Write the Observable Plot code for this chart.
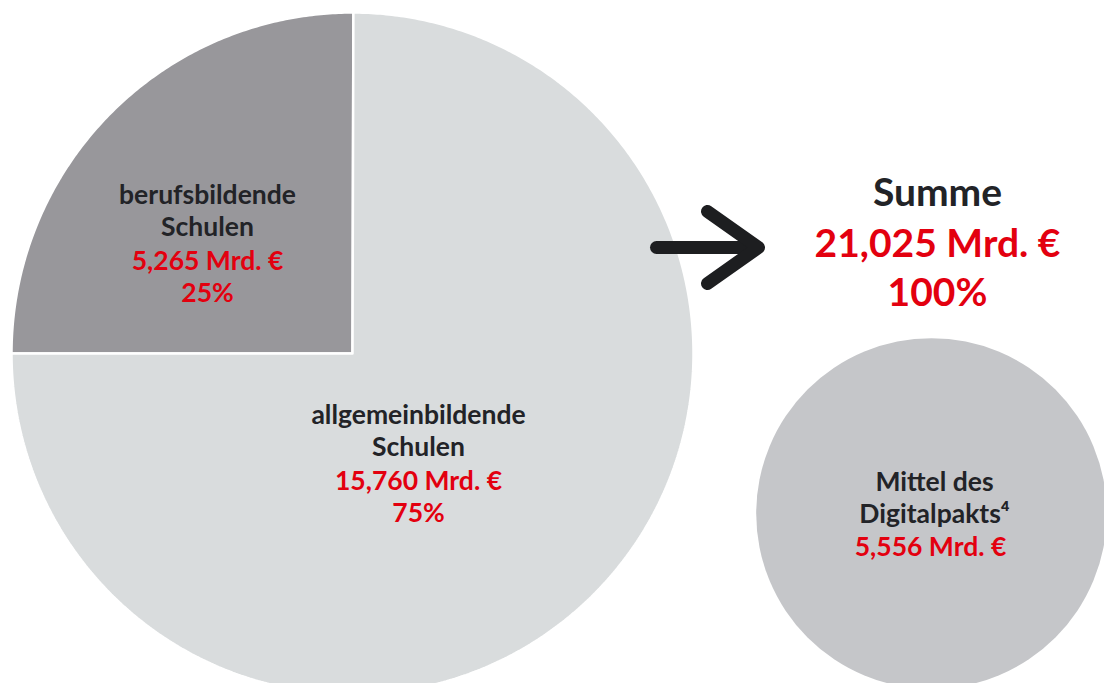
<!DOCTYPE html>
<html>
<head>
<meta charset="utf-8">
<script src="https://cdn.jsdelivr.net/npm/d3@7"></script>
<script src="https://cdn.jsdelivr.net/npm/@observablehq/plot@0.6"></script>
<style>
  html, body { margin: 0; padding: 0; background: #fff; overflow: hidden; }
  #chart svg { display: block; }
</style>
</head>
<body>
<div id="chart"></div>
<script>
// ---- data ----
const segmentNames = ["berufsbildende Schulen", "allgemeinbildende Schulen"];
const segmentAmounts = [5.265, 15.760];   // Mrd. €
const segmentShares = [25, 75];           // %
const totalLabel = "Summe";
const totalAmount = 21.025;               // Mrd. €
const totalShare = 100;                   // %
const digitalName = ["Mittel des", "Digitalpakts⁴"];
const digitalAmount = 5.556;              // Mrd. €

// ---- layout ----
const W = 1104, H = 683;
const pieCx = 352, pieCy = 353;
const digCx = 931, digCy = 513;
const rMax = 341;
const colors = ["#98979b", "#d9dcdd"];
const digColor = "#c5c6c9";
const red = "#e3000f";
const dark = "#222327";
const font = "Lato, 'Open Sans', sans-serif";
const sSmall = 26.5, sBig = 39;

const de = d3.formatLocale({decimal: ",", thousands: ".", grouping: [3], currency: ["", " €"]});
const fmt = de.format(".3f");
const money = v => `${fmt(v)} Mrd. €`;

const rScale = d3.scaleSqrt().domain([0, totalAmount]).range([0, rMax]);
const pieR = rScale(totalAmount);

const table = segmentNames.map((name, i) => ({name, amount: segmentAmounts[i], share: segmentShares[i]}));
const arcs = d3.pie().sort(null).value(d => d.amount).startAngle(-Math.PI / 2).endAngle(3 * Math.PI / 2)(table);

// polygon points for each slice, from the pie angles
const slicePts = [];
arcs.forEach((a, i) => {
  const n = Math.max(8, Math.ceil((a.endAngle - a.startAngle) / (Math.PI / 360)));
  slicePts.push({name: a.data.name, px: pieCx, py: pieCy, i});
  for (let k = 0; k <= n; k++) {
    const t = a.startAngle + (a.endAngle - a.startAngle) * k / n;
    slicePts.push({name: a.data.name, px: pieCx + pieR * Math.sin(t), py: pieCy - pieR * Math.cos(t), i});
  }
  slicePts.push({name: a.data.name, px: pieCx, py: pieCy, i});
});

// label placements (layout)
const labelPos = [
  {x: 207, y: 195},
  {x: 418, y: 415}
];
const lh = 32.5;
const darkTexts = [], redTexts = [];
table.forEach((d, i) => {
  const p = labelPos[i];
  const parts = d.name.split(" ");
  parts.forEach((t, k) => darkTexts.push({t, x: p.x, y: p.y + k * lh, size: sSmall}));
  redTexts.push({t: money(d.amount), x: p.x, y: p.y + 2 * lh + 1, size: sSmall});
  redTexts.push({t: `${d.share}%`, x: p.x, y: p.y + 3 * lh + 1, size: sSmall});
});
// total
darkTexts.push({t: totalLabel, x: 937, y: 193, size: sBig});
redTexts.push({t: money(totalAmount), x: 937, y: 244, size: sBig});
redTexts.push({t: `${totalShare}%`, x: 937, y: 293, size: sBig});
// digitalpakt
digitalName.forEach((t, k) => darkTexts.push({t, x: 934, y: 482 + k * lh, size: sSmall}));
redTexts.push({t: money(digitalAmount), x: 930, y: 547, size: sSmall});

// arrow (layout)
const arrowShaft = [{px: 656, py: 247}, {px: 752, py: 247}];
const arrowHead = [{px: 707, py: 211}, {px: 758, py: 247}, {px: 707, py: 283}];

const textMark = (data, size, fill) => Plot.text(data.filter(d => d.size === size), {
  x: "x", y: "y", text: "t", fill, fontSize: size, fontWeight: 700, fontFamily: font,
  textAnchor: "middle", lineAnchor: "middle"
});

const chart = Plot.plot({
  width: W,
  height: H,
  margin: 0,
  x: {type: "identity", axis: null},
  y: {type: "identity", axis: null},
  r: {type: "sqrt", domain: [0, totalAmount], range: [0, rMax]},
  style: {background: "white", overflow: "visible"},
  marks: [
    ...arcs.map((a, i) => Plot.line(slicePts.filter(p => p.i === i), {
      x: "px", y: "py", fill: colors[i], stroke: "white", strokeWidth: 2.5, strokeLinejoin: "miter", curve: "linear"
    })),
    Plot.dot([{amount: digitalAmount}], {x: () => digCx, y: () => digCy, r: "amount", fill: digColor, stroke: "none"}),
    Plot.line(arrowShaft, {x: "px", y: "py", stroke: "#1d1e20", strokeWidth: 13, strokeLinecap: "round"}),
    Plot.line(arrowHead, {x: "px", y: "py", stroke: "#1d1e20", strokeWidth: 13, strokeLinecap: "round", strokeLinejoin: "round"}),
    textMark(darkTexts, sSmall, dark),
    textMark(darkTexts, sBig, dark),
    textMark(redTexts, sSmall, red),
    textMark(redTexts, sBig, red)
  ]
});
document.getElementById("chart").appendChild(chart);
</script>
</body>
</html>
